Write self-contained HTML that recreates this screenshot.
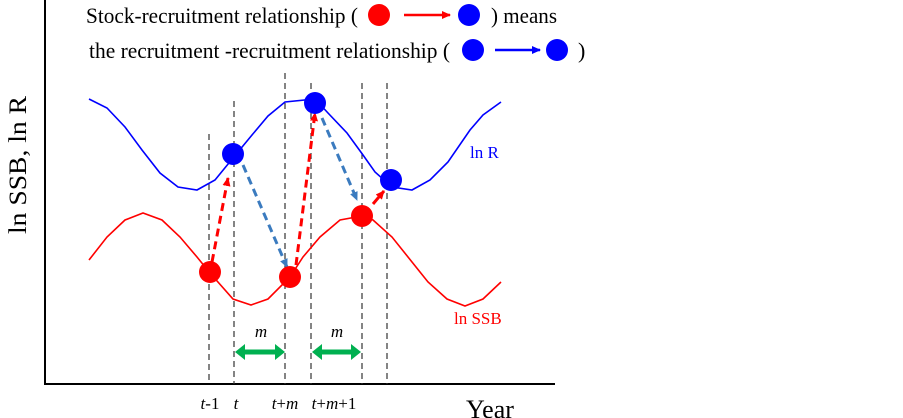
<!DOCTYPE html>
<html><head><style>body{margin:0;background:#fff}svg{display:block}</style></head><body>
<svg width="903" height="418" xmlns="http://www.w3.org/2000/svg" font-family="Liberation Serif, serif">
<defs>
<marker id="ar" markerWidth="10" markerHeight="10" refX="8" refY="4" orient="auto" markerUnits="userSpaceOnUse"><path d="M0,0 L9,4 L0,8z" fill="red"/></marker>
<marker id="ab" markerWidth="10" markerHeight="10" refX="8" refY="4" orient="auto" markerUnits="userSpaceOnUse"><path d="M0,0 L9,4 L0,8z" fill="#3b7bbf"/></marker>
<marker id="ar2" markerWidth="10" markerHeight="10" refX="8" refY="4" orient="auto" markerUnits="userSpaceOnUse"><path d="M0,0 L9,4 L0,8z" fill="red"/></marker>
<marker id="ab2" markerWidth="10" markerHeight="10" refX="8" refY="4" orient="auto" markerUnits="userSpaceOnUse"><path d="M0,0 L9,4 L0,8z" fill="blue"/></marker>
</defs>
<line x1="45" y1="0" x2="45" y2="385" stroke="#000" stroke-width="2"/>
<line x1="44" y1="384" x2="555" y2="384" stroke="#000" stroke-width="2"/>
<g stroke="#333" stroke-width="1.2" stroke-dasharray="6,4">
<line x1="209" y1="134" x2="209" y2="384"/><line x1="234" y1="101" x2="234" y2="384"/>
<line x1="285" y1="73" x2="285" y2="384"/><line x1="311" y1="83" x2="311" y2="384"/>
<line x1="362" y1="83" x2="362" y2="384"/><line x1="387" y1="83" x2="387" y2="384"/>
</g>
<polyline fill="none" stroke="blue" stroke-width="1.6" points="89,99 107,108 125,127 142,150 160,173 178,187 197,190 215,180 233,158 252,135 268,116 285,102 315,99 328,113 347,133 363,155 375,172 392,187 412,190 430,180 448,162 470,130 483,115 501,102"/>
<polyline fill="none" stroke="red" stroke-width="1.6" points="89,260 107,237 125,220 143,213 162,220 180,237 197,257 210,273 233,299 251,305 268,299 290,277 303,257 320,237 340,220 362,216 373,220 392,237 420,272 428,282 447,299 465,306 483,299 501,282"/>
<g stroke-width="3" stroke-dasharray="8,5" fill="none">
<line x1="212" y1="262" x2="228" y2="178" stroke="red" marker-end="url(#ar)"/>
<line x1="296" y1="265" x2="315" y2="113" stroke="red" marker-end="url(#ar)"/>
<line x1="373" y1="204" x2="384" y2="191" stroke="red" stroke-dasharray="none" marker-end="url(#ar)"/>
<line x1="243" y1="165" x2="287" y2="267" stroke="#3b7bbf" marker-end="url(#ab)"/>
<line x1="322" y1="118" x2="357" y2="200" stroke="#3b7bbf" marker-end="url(#ab)"/>
</g>
<g fill="red"><circle cx="210" cy="272" r="11"/><circle cx="290" cy="277" r="11"/><circle cx="362" cy="216" r="11"/></g>
<g fill="blue"><circle cx="233" cy="154" r="11"/><circle cx="315" cy="103" r="11"/><circle cx="391" cy="180" r="11"/></g>
<g fill="#00b050" stroke="#00b050">
<line x1="242" y1="352" x2="278" y2="352" stroke-width="5"/><path d="M235,352 L245,344 L245,360z M285,352 L275,344 L275,360z" stroke="none"/>
<line x1="319" y1="352" x2="354" y2="352" stroke-width="5"/><path d="M312,352 L322,344 L322,360z M361,352 L351,344 L351,360z" stroke="none"/>
</g>
<g font-style="italic" font-size="17" text-anchor="middle"><text x="261" y="337">m</text><text x="337" y="337">m</text></g>
<g font-size="17" text-anchor="middle">
<text x="210" y="409"><tspan font-style="italic">t</tspan>-1</text>
<text x="236" y="409" font-style="italic">t</text>
<text x="285" y="409"><tspan font-style="italic">t</tspan>+<tspan font-style="italic">m</tspan></text>
<text x="334" y="409"><tspan font-style="italic">t</tspan>+<tspan font-style="italic">m</tspan>+1</text>
</g>
<text x="466" y="418" font-size="26">Year</text>
<text transform="translate(26,165) rotate(-90)" font-size="25" text-anchor="middle" textLength="138" lengthAdjust="spacingAndGlyphs">ln SSB,  ln R</text>
<text x="470" y="158" font-size="17" fill="blue">ln R</text>
<text x="454" y="324" font-size="17" fill="red">ln SSB</text>
<text x="86" y="23" font-size="22" textLength="272" lengthAdjust="spacingAndGlyphs">Stock-recruitment relationship (</text>
<circle cx="379" cy="15" r="11" fill="red"/>
<line x1="404" y1="15" x2="450" y2="15" stroke="red" stroke-width="2.5" marker-end="url(#ar2)"/>
<circle cx="469" cy="15" r="11" fill="blue"/>
<text x="491" y="23" font-size="22" textLength="66" lengthAdjust="spacingAndGlyphs">) means</text>
<text x="89" y="58" font-size="22" textLength="361" lengthAdjust="spacingAndGlyphs">the recruitment -recruitment relationship (</text>
<circle cx="473" cy="50" r="11" fill="blue"/>
<line x1="495" y1="50" x2="540" y2="50" stroke="blue" stroke-width="2.5" marker-end="url(#ab2)"/>
<circle cx="557" cy="50" r="11" fill="blue"/>
<text x="578" y="58" font-size="22">)</text>
</svg>
</body></html>
